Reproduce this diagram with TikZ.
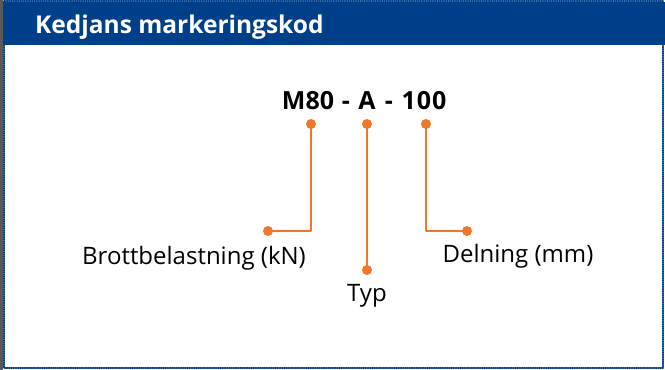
\documentclass[tikz,border=0pt]{standalone}
\usepackage{fontspec}
\setmainfont{Open Sans}
\usetikzlibrary{positioning}

\definecolor{headblue}{RGB}{0,64,138}
\definecolor{markorange}{RGB}{240,120,40}

\begin{document}
\begin{tikzpicture}[x=1pt, y=-1pt, line cap=round, line join=round]

% --- Styles ---
\tikzset{
    header/.style={
        fill=headblue
    },
    frame/.style={
        draw=headblue,
        densely dotted,
        line width=1.2pt
    },
    leader/.style={
        draw=markorange,
        line width=2.6pt,
        line cap=butt
    },
    markdot/.style={
        circle,
        fill=markorange,
        inner sep=0pt,
        minimum size=10pt
    },
    codetext/.style={
        font=\bfseries\fontsize{25}{29}\selectfont,
        inner sep=0pt
    },
    labeltext/.style={
        font=\fontsize{24}{28}\selectfont,
        inner sep=0pt
    }
}

\useasboundingbox (0,0) rectangle (665,370);

% --- Ram och rubrik ---
\fill[gray!70!black] (0,0) rectangle (3,370);
\draw[frame] (4,1) rectangle (663,368);
\fill[header] (3,2) rectangle (665,45);
\node[white, anchor=west, inner sep=0pt,
      font=\bfseries\fontsize{24.5}{28}\selectfont] (title) at (35,27)
    {Kedjans markeringskod};

% --- Markeringskod ---
\node[codetext, anchor=base] (codeM) at (308,109) {M80};
\node[codetext, anchor=base] (dashA) at (346,109) {-};
\node[codetext, anchor=base] (codeA) at (367,109) {A};
\node[codetext, anchor=base] (dashB) at (389,109) {-};
\node[codetext, anchor=base] (codeP) at (424,109) {1\kern1pt0\kern1pt0};

% --- Punkter ---
\node[markdot] (dotM) at (311,124) {};
\node[markdot] (dotA) at (367,124) {};
\node[markdot] (dotP) at (426,124) {};
\node[markdot] (endM) at (268,231) {};
\node[markdot] (endA) at (367,270) {};
\node[markdot] (endP) at (467,231) {};

% --- Hänvisningslinjer ---
\draw[leader] (dotM.center) |- (endM.center);
\draw[leader] (dotA.center) -- (endA.center);
\draw[leader] (dotP.center) |- (endP.center);

% --- Etiketter ---
\node[labeltext] (labelM) at (194,258) {Brottbelastning (kN)};
\node[labeltext] (labelA) at (367,296) {Typ};
\node[labeltext] (labelP) at (518,256) {Delning (mm)};

\end{tikzpicture}
\end{document}
